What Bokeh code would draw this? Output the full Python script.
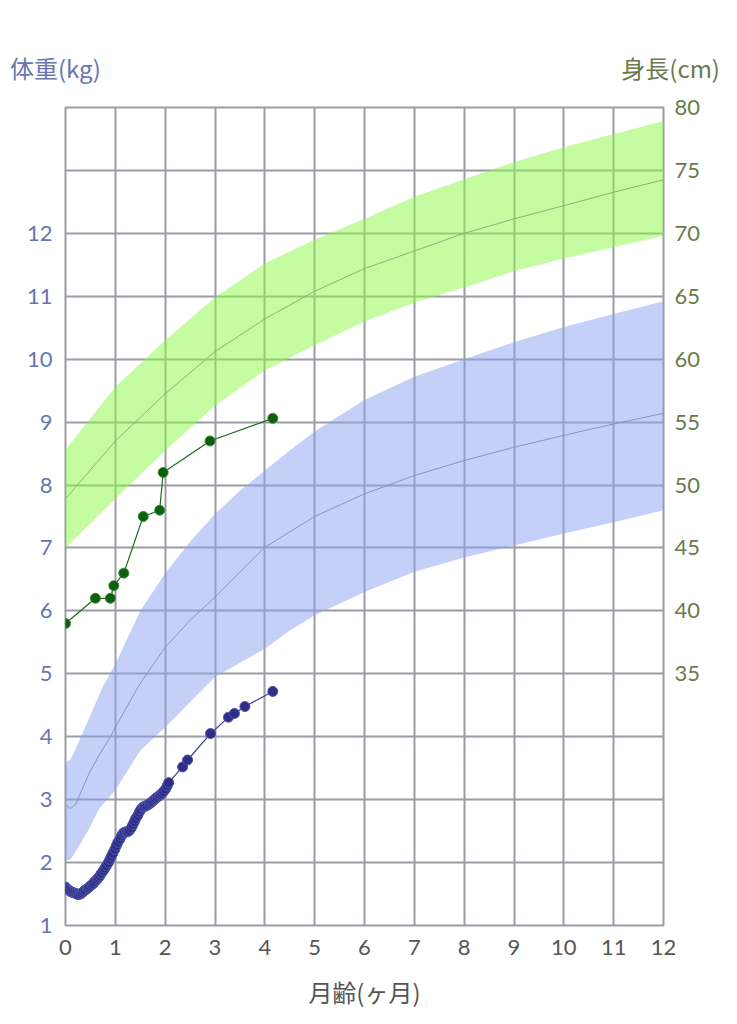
from bokeh.plotting import figure
from bokeh.models import Range1d, LinearAxis, FixedTicker, Div
from bokeh.layouts import column
from bokeh.embed import file_html
from bokeh.resources import INLINE

# ---- ticks ----
month_ticks = list(range(0, 13))
weight_ticks = list(range(1, 13))
weight_grid = list(range(1, 15))
height_ticks = list(range(35, 81, 5))

# ---- weight reference band (kg) ----
wt_upper_m = [0, 0.1, 0.2, 0.45, 0.75, 1.0, 1.5, 2.0, 2.5, 3.0, 3.5, 4.0, 4.5, 5, 6, 7, 8, 9, 10, 11, 12]
wt_upper_v = [3.59, 3.64, 3.80, 4.25, 4.80, 5.15, 6.00, 6.60, 7.10, 7.54, 7.91, 8.23, 8.55, 8.85, 9.35, 9.72, 10.0, 10.27, 10.51, 10.72, 10.92]
wt_lower_m = [0, 0.1, 0.2, 0.47, 0.67, 1.0, 1.5, 2.0, 3.0, 4.0, 4.5, 5, 6, 7, 8, 9, 10, 11, 12]
wt_lower_v = [2.03, 2.05, 2.17, 2.53, 2.85, 3.15, 3.78, 4.15, 4.95, 5.40, 5.69, 5.93, 6.30, 6.62, 6.85, 7.04, 7.23, 7.41, 7.60]
wt_med_m = [0, 0.1, 0.2, 0.47, 0.67, 0.9, 1.0, 1.5, 2.0, 2.5, 3, 4, 5, 6, 7, 8, 9, 10, 11, 12]
wt_med_v = [2.92, 2.86, 2.92, 3.41, 3.70, 4.00, 4.15, 4.85, 5.42, 5.85, 6.22, 7.01, 7.50, 7.86, 8.15, 8.39, 8.60, 8.79, 8.97, 9.14]

# ---- height reference band (cm) ----
ht_band_m = [0, 1, 2, 3, 4, 5, 6, 7, 8, 9, 10, 11, 12]
ht_lower_v = [45.0, 48.9, 52.75, 56.3, 59.1, 61.1, 63.0, 64.5, 65.7, 67.0, 68.0, 68.9, 69.8]
ht_med_v = [48.9, 53.5, 57.25, 60.6, 63.2, 65.4, 67.2, 68.6, 70.0, 71.15, 72.2, 73.27, 74.25]
ht_upper_v = [52.8, 57.8, 61.5, 64.9, 67.6, 69.5, 71.15, 72.9, 74.3, 75.66, 76.85, 77.9, 78.9]

# ---- measured weight (kg) ----
w_month = [0.00, 0.03, 0.07, 0.10, 0.13, 0.16, 0.20, 0.23, 0.26, 0.30,
           0.33, 0.36, 0.39, 0.43, 0.46, 0.49, 0.53, 0.56, 0.59, 0.63,
           0.66, 0.69, 0.72, 0.76, 0.79, 0.82, 0.86, 0.89, 0.92, 0.95,
           0.99, 1.02, 1.05, 1.09, 1.12, 1.15, 1.18, 1.22, 1.25, 1.28,
           1.32, 1.35, 1.38, 1.41, 1.45, 1.48, 1.51, 1.55, 1.58, 1.61,
           1.64, 1.68, 1.71, 1.74, 1.78, 1.81, 1.84, 1.88, 1.91, 1.94,
           1.97, 2.01, 2.04, 2.07,
           2.35, 2.45, 2.91, 3.27, 3.39, 3.60, 4.16]
w_value = [1.61, 1.58, 1.56, 1.54, 1.53, 1.52, 1.51, 1.50, 1.49, 1.50,
           1.52, 1.54, 1.56, 1.58, 1.60, 1.62, 1.65, 1.67, 1.70, 1.73,
           1.76, 1.79, 1.83, 1.87, 1.91, 1.95, 2.00, 2.05, 2.10, 2.15,
           2.21, 2.27, 2.32, 2.37, 2.42, 2.46, 2.48, 2.49, 2.49, 2.51,
           2.55, 2.60, 2.65, 2.70, 2.75, 2.80, 2.84, 2.88, 2.89, 2.90,
           2.91, 2.93, 2.95, 2.97, 3.00, 3.02, 3.04, 3.06, 3.08, 3.10,
           3.13, 3.17, 3.22, 3.27,
           3.52, 3.63, 4.05, 4.31, 4.37, 4.48, 4.72]

# ---- measured height (cm) ----
h_month = [0.00, 0.60, 0.90, 0.97, 1.17, 1.56, 1.89, 1.96, 2.90, 4.16]
h_value = [39.0, 41.0, 41.0, 42.0, 43.0, 47.5, 48.0, 51.0, 53.5, 55.3]

# ---- axis titles ----
left_title = "体重(kg)"
right_title = "身長(cm)"
bottom_title = "月齢(ヶ月)"

BLUE_TXT = "#6676b0"
GREEN_TXT = "#6b7a4b"
GRAY_TXT = "#555555"
GRID = "#9c9ca4"
NUM_FONT = "Lato"
CJK_FONT = "Noto Sans CJK JP"

TOTAL_W = 729
HDR_H = 90

# header strip holding the two axis titles
hdr_html = (
    f'<div style="position:relative;width:{TOTAL_W}px;height:{HDR_H}px;'
    f"font-family:'{CJK_FONT}';font-size:24px;line-height:30px;\">"
    f'<span style="position:absolute;left:10px;top:53px;color:{BLUE_TXT};white-space:nowrap;">{left_title}</span>'
    f'<span style="position:absolute;right:{TOTAL_W - 720}px;top:53px;color:{GREEN_TXT};white-space:nowrap;">{right_title}</span>'
    '</div>'
)
hdr = Div(text=hdr_html, width=TOTAL_W, height=HDR_H, margin=0)

p = figure(frame_width=598, frame_height=818,
           x_range=Range1d(0, 12), y_range=Range1d(1, 14),
           output_backend="svg", toolbar_location=None,
           min_border_left=65, min_border_right=TOTAL_W - 65 - 598,
           min_border_top=107 - HDR_H, min_border_bottom=90)
p.extra_y_ranges = {"h": Range1d(15, 80)}

p.outline_line_color = GRID
p.outline_line_width = 2

# grids
p.xgrid.ticker = FixedTicker(ticks=month_ticks)
p.ygrid.ticker = FixedTicker(ticks=weight_grid)
for g in (p.xgrid, p.ygrid):
    g.grid_line_color = GRID
    g.grid_line_width = 2

# bottom axis
xa = p.xaxis[0]
xa.ticker = FixedTicker(ticks=month_ticks)
xa.axis_label = bottom_title
xa.axis_label_text_font = CJK_FONT
xa.axis_label_text_font_style = "normal"
xa.axis_label_text_font_size = "24px"
xa.axis_label_text_color = GRAY_TXT
xa.axis_label_standoff = 16
xa.major_label_text_font = NUM_FONT
xa.major_label_text_font_size = "22px"
xa.major_label_text_color = GRAY_TXT
xa.major_label_standoff = 8

# left axis
ya = p.yaxis[0]
ya.ticker = FixedTicker(ticks=weight_ticks)
ya.major_label_text_font = NUM_FONT
ya.major_label_text_font_size = "22px"
ya.major_label_text_color = BLUE_TXT
ya.major_label_standoff = 7

# right axis
ra = LinearAxis(y_range_name="h", ticker=FixedTicker(ticks=height_ticks))
ra.major_label_text_font = NUM_FONT
ra.major_label_text_font_size = "22px"
ra.major_label_text_color = GREEN_TXT
ra.major_label_standoff = 5
p.add_layout(ra, "right")

for ax in (xa, ya, ra):
    ax.axis_line_color = None
    ax.major_tick_line_color = None
    ax.minor_tick_line_color = None

# reference bands
p.patch(wt_upper_m + wt_lower_m[::-1], wt_upper_v + wt_lower_v[::-1],
        fill_color="#8ba1f1", fill_alpha=0.5, line_color=None)
p.line(wt_med_m, wt_med_v, line_color="#8a90c0", line_width=1)

p.varea(x=ht_band_m, y1=ht_lower_v, y2=ht_upper_v, y_range_name="h",
        fill_color="#8bfa45", fill_alpha=0.5)
p.line(ht_band_m, ht_med_v, y_range_name="h", line_color="#86b476", line_width=1)

# measurements
p.line(h_month, h_value, y_range_name="h", line_color="#1d6a1d", line_width=1.2)
p.scatter(h_month, h_value, y_range_name="h", size=10,
          fill_color="#0c5f0c", line_color="#3f8a3f", line_width=1)

p.line(w_month, w_value, line_color="#3d3f92", line_width=1.2)
p.scatter(w_month, w_value, size=10,
          fill_color="#2c2e88", line_color="#4f52a6", line_width=1)

layout = column(hdr, p, spacing=0)
open("out.html", "w").write(file_html(layout, INLINE))
